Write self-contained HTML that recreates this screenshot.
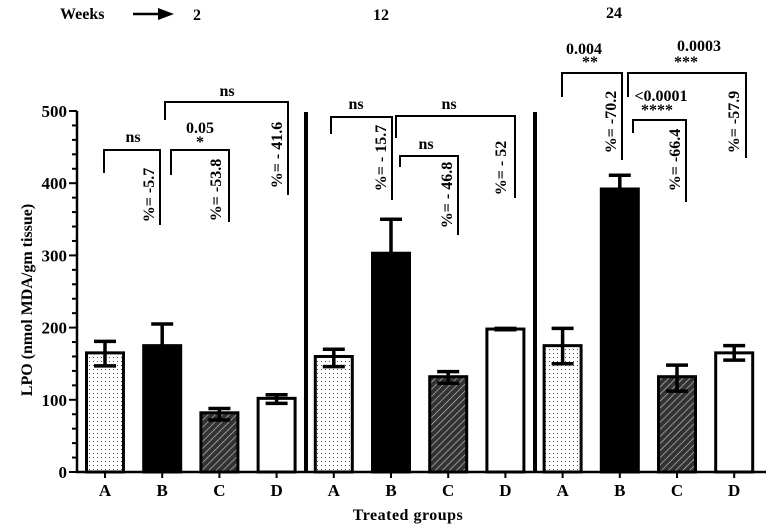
<!DOCTYPE html>
<html><head><meta charset="utf-8"><style>
html,body{margin:0;padding:0;background:#fff}
svg{display:block;font-family:"Liberation Serif",serif;font-weight:bold}
</style></head><body>
<svg id="chart" width="772" height="531" viewBox="0 0 772 531">
<defs>
<pattern id="dots" width="4" height="4" patternUnits="userSpaceOnUse"><rect width="4" height="4" fill="#fff"/><rect x="1" y="1" width="1" height="1" fill="#555"/></pattern>
<pattern id="hatch" width="5" height="5" patternUnits="userSpaceOnUse" patternTransform="rotate(45)"><rect width="5" height="5" fill="#333"/><line x1="0" y1="0" x2="0" y2="5" stroke="#bbb" stroke-width="1.4"/></pattern>
</defs>
<g id="axes"></g>
<g id="bars"></g>
<g id="annot" font-size="16">
 <text x="60" y="19" font-size="16">Weeks</text>
 <line x1="133" y1="14" x2="160" y2="14" stroke="#000" stroke-width="2.5"/>
 <polygon points="158,8 174,14 158,20" fill="#000"/>
 <text x="193" y="20">2</text>
 <text x="373" y="20">12</text>
 <text x="606" y="18">24</text>
</g>
</svg>
<script>
const categories=["A","B","C","D","A","B","C","D","A","B","C","D"];
const means=[165,175,82,102,160,303,132,198,175,392,132,165];
const errLow=[147,175,72,95,146,303,123,197,150,372,112,155];
const errHigh=[181,205,88,107,170,350,139,199,199,411,148,175];
const yTicks=[0,100,200,300,400,500];
const fills=["url(#dots)","#000","url(#hatch)","#fff"];
const NS="http://www.w3.org/2000/svg";
const y=v=>472-v*(361/500);
const x=i=>105+i*57.2;
function mk(tag,attrs,parent){const e=document.createElementNS(NS,tag);for(const k in attrs)e.setAttribute(k,attrs[k]);parent.appendChild(e);return e;}
const axes=document.getElementById('axes'),bars=document.getElementById('bars'),ann=document.getElementById('annot');
let yl=mk('line',{x1:77,y1:y(500),x2:77,y2:472,stroke:'#000','stroke-width':2.5},axes);


for(let v=0;v<=500;v+=20){mk('line',{x1:yTicks.includes(v)?69:72,y1:y(v),x2:77,y2:y(v),stroke:'#000','stroke-width':2},axes);}
yTicks.forEach(v=>{const t=mk('text',{x:67,y:y(v)+6,'text-anchor':'end','font-size':17},axes);t.textContent=v;

});
let xl=mk('line',{x1:76,y1:472,x2:766,y2:472,stroke:'#000','stroke-width':2.5},axes);


let yt=mk('text',{x:0,y:0,transform:'translate(32,300) rotate(-90)','text-anchor':'middle','font-size':16},axes);yt.textContent='LPO (nmol MDA/gm tissue)';


let xt=mk('text',{x:408,y:520,'text-anchor':'middle','font-size':16,'letter-spacing':'0.5'},axes);xt.textContent='Treated groups';


[306,535].forEach(px=>{const d=mk('line',{x1:px,y1:112,x2:px,y2:472,stroke:'#000','stroke-width':4},axes);

});
categories.forEach((c,i)=>{
 const cx=x(i),w=40;
 mk('line',{x1:cx,y1:472,x2:cx,y2:478,stroke:'#000','stroke-width':2},axes);
 const t=mk('text',{x:cx,y:496,'text-anchor':'middle','font-size':17},axes);t.textContent=c;
 
 
 const r=mk('rect',{x:cx-w/2+1.5,y:y(means[i]),width:w-3,height:472-y(means[i]),fill:fills[i%4],stroke:'#000','stroke-width':3},bars);
 
 
 mk('line',{x1:cx,y1:y(errLow[i]),x2:cx,y2:y(errHigh[i]),stroke:'#000','stroke-width':3.5},bars);
 mk('line',{x1:cx-11,y1:y(errHigh[i]),x2:cx+11,y2:y(errHigh[i]),stroke:'#000','stroke-width':3.5},bars);
 if(errLow[i]<means[i]) mk('line',{x1:cx-11,y1:y(errLow[i]),x2:cx+11,y2:y(errLow[i]),stroke:'#000','stroke-width':3.5},bars);
});
const brackets=[
 [104,160,150,173,225,[["ns",133,142]],"%= -5.7",150,195],
 [171,229,150,175,222,[["0.05",200,133],["*",200,147]],"%= -53.8",217,190],
 [165,288,102,120,195,[["ns",227,96]],"%= - 41.6",278,155],
 [331,392,117,134,200,[["ns",356,109]],"%= - 15.7",382,158],
 [396,515,116,138,198,[["ns",449,109]],"%= - 52",502,168],
 [400,458,156,167,235,[["ns",426,149]],"%= - 46.8",448,195],
 [562,622,73,97,160,[["0.004",584,54],["**",590,67]],"%= -70.2",612,122],
 [628,746,73,97,158,[["0.0003",699,51],["***",686,67]],"%= -57.9",735,122],
 [633,686,120,133,202,[["<0.0001",661,101],["****",657,115]],"%= -66.4",676,160]
];
brackets.forEach(b=>{
 const g=mk('g',{},ann);
 
 
 mk('polyline',{points:`${b[0]},${b[3]} ${b[0]},${b[2]} ${b[1]},${b[2]} ${b[1]},${b[4]}`,fill:'none',stroke:'#000','stroke-width':2},g);
 b[5].forEach(l=>{const t=mk('text',{x:l[1],y:l[2],'text-anchor':'middle','font-size':16},g);t.textContent=l[0];});
 const p=mk('text',{x:0,y:0,transform:`translate(${b[7]+4},${b[8]}) rotate(-90)`,'text-anchor':'middle','font-size':16},g);p.textContent=b[6];
});
</script>
</body></html>
